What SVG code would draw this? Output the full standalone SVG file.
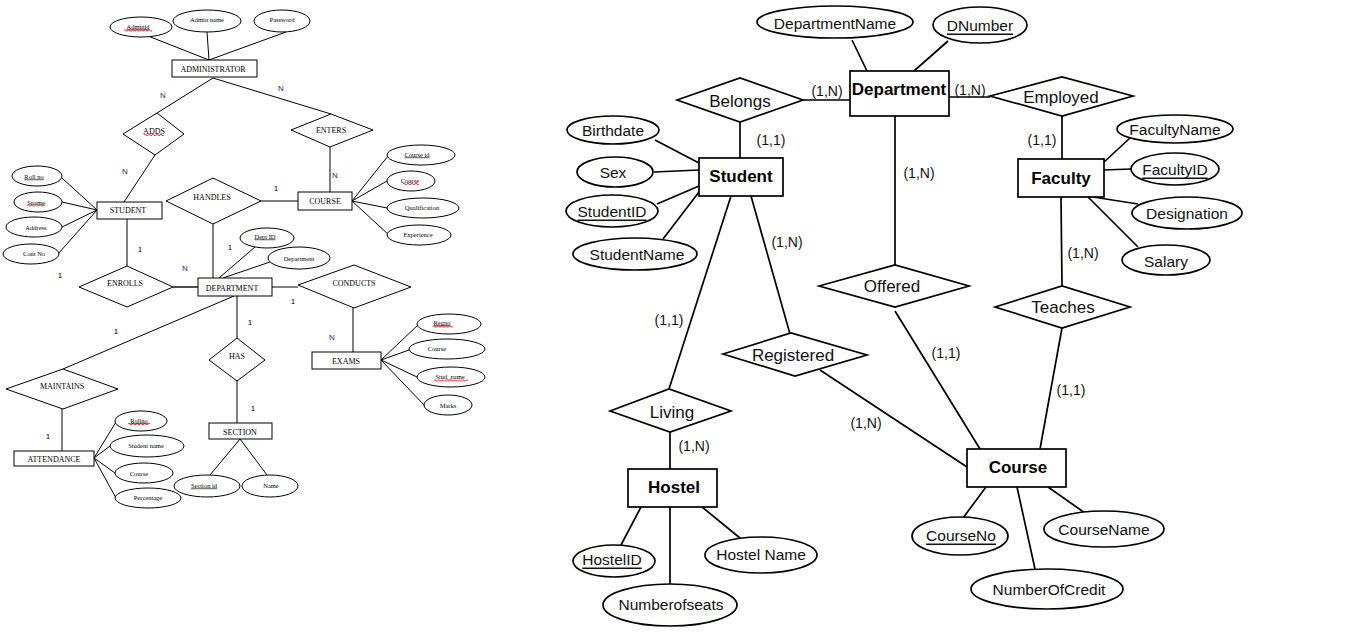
<svg xmlns="http://www.w3.org/2000/svg" width="1347" height="636" viewBox="0 0 1347 636">
<style>
.bg{fill:#fff}
.l1{fill:none;stroke:#000;stroke-width:1}
.l2{fill:none;stroke:#000;stroke-width:1.7}
.s1{fill:#fff;stroke:#000;stroke-width:1}
.s2{fill:#fff;stroke:#000;stroke-width:1.7}
.tE{font-family:"Liberation Serif",serif;font-size:8px;fill:#000;text-anchor:middle;dominant-baseline:central}
.tA{font-family:"Liberation Serif",serif;font-size:6.5px;fill:#000;text-anchor:middle;dominant-baseline:central}
.tC{font-family:"Liberation Sans",sans-serif;font-size:8px;fill:#000;text-anchor:middle;dominant-baseline:central}
.tN{font-family:"Liberation Sans",sans-serif;font-size:8px;fill:#1f2d6b;text-anchor:middle;dominant-baseline:central}
.u{text-decoration:underline}
.sq{fill:none;stroke:#e00000;stroke-width:0.8}
.rE{font-family:"Liberation Sans",sans-serif;font-size:17px;font-weight:bold;fill:#000;text-anchor:middle;dominant-baseline:central}
.rA{font-family:"Liberation Sans",sans-serif;font-size:15.5px;fill:#111;text-anchor:middle;dominant-baseline:central}
.rR{font-family:"Liberation Sans",sans-serif;font-size:17px;fill:#111;text-anchor:middle;dominant-baseline:central}
.rC{font-family:"Liberation Sans",sans-serif;font-size:14px;fill:#111;text-anchor:middle;dominant-baseline:central}
</style>
<rect class="bg" x="0" y="0" width="1347" height="636"/>

<!-- ===== LEFT DIAGRAM CONNECTORS ===== -->
<g id="connectors-left">
<path class="l1" d="M148 36 L209 60 M207 32 L209 60 M286 32 L209 60"/>
<path class="l1" d="M213 78 L157 113 M213 78 L331 114"/>
<path class="l1" d="M155 155 L124 202"/>
<path class="l1" d="M330 147 L330 192"/>
<path class="l1" d="M62 178 L97 210 M62 202 L97 210 M62 227 L97 210 M58 254 L97 210"/>
<path class="l1" d="M352 201 L388 156 M352 201 L387 181 M352 201 L387 208 M352 201 L389 235"/>
<path class="l1" d="M261 201 L298 201 M213 224 L213 278"/>
<path class="l1" d="M127 219 L127 266"/>
<path class="l2" d="M173 287 L198 287" style="stroke-width:1.4"/>
<path class="l1" d="M255 247 L219 278 M270 262 L223 278"/>
<path class="l1" d="M272 287 L298 287"/>
<path class="l1" d="M353 308 L353 352"/>
<path class="l1" d="M381 360 L418 325 M381 360 L409 350 M381 360 L417 377 M381 360 L425 406"/>
<path class="l1" d="M237 296 L237 338 M237 381 L237 423"/>
<path class="l1" d="M240 439 L210 475 M240 439 L267 475"/>
<path class="l1" d="M234 296 L63 369"/>
<path class="l1" d="M62 409 L62 451"/>
<path class="l1" d="M94 458 L116 422 M94 458 L110 446 M94 458 L115 473 M94 458 L116 498"/>
</g>

<!-- cardinalities left -->
<g id="cardinalities-left">
<text class="tN" x="163" y="95">N</text>
<text class="tN" x="281" y="88">N</text>
<text class="tN" x="125" y="171">N</text>
<text class="tN" x="335" y="175">N</text>
<text class="tC" x="276" y="188">1</text>
<text class="tC" x="140" y="249">1</text>
<text class="tC" x="230" y="247">1</text>
<text class="tC" x="60" y="275">1</text>
<text class="tN" x="185" y="268">N</text>
<text class="tC" x="293" y="301">1</text>
<text class="tN" x="332" y="337">N</text>
<text class="tC" x="116" y="331">1</text>
<text class="tC" x="250" y="322">1</text>
<text class="tC" x="253" y="408">1</text>
<text class="tC" x="48" y="436">1</text>
</g>

<!-- ===== LEFT DIAGRAM NODES ===== -->
<g id="adminid"><ellipse class="s1" cx="141" cy="27" rx="31" ry="10"/><text class="tA u" x="138" y="26">Adminid</text><path class="sq" d="M124 30.5 q1 -1.5 2 0 t2 0 t2 0 t2 0 t2 0 t2 0 t2 0 t2 0 t2 0 t2 0 t2 0 t2 0 t2 0 t2 0"/></g>
<g id="adminname"><ellipse class="s1" cx="207" cy="21" rx="34" ry="11"/><text class="tA" x="207" y="19">Admin name</text></g>
<g id="password"><ellipse class="s1" cx="282" cy="21" rx="28" ry="11"/><text class="tA" x="282" y="19">Password</text></g>
<g id="administrator"><rect class="s1" x="172" y="60" width="85" height="17"/><text class="tE" x="213" y="69">ADMINISTRATOR</text></g>
<g id="adds"><polygon class="s1" points="123,134 157,113 184,134 155,155"/><text class="tE" x="154" y="131">ADDS</text><path class="sq" d="M144 135 q1 -1.5 2 0 t2 0 t2 0 t2 0 t2 0 t2 0 t2 0 t2 0 t2 0 t2 0"/></g>
<g id="enters"><polygon class="s1" points="291,130 331,114 373,130 330,147"/><text class="tE" x="331" y="130">ENTERS</text></g>
<g id="course"><rect class="s1" x="298" y="192" width="54" height="18"/><text class="tE" x="325" y="201">COURSE</text></g>
<g id="courseid"><ellipse class="s1" cx="421" cy="155" rx="34" ry="10"/><text class="tA u" x="417" y="154">Course id</text></g>
<g id="coursename1"><ellipse class="s1" cx="411" cy="181" rx="24" ry="10"/><text class="tA" x="410" y="180">Course</text><path class="sq" d="M403 184 q1 -1.5 2 0 t2 0 t2 0 t2 0 t2 0 t2 0 t2 0 t2 0"/></g>
<g id="qualification"><ellipse class="s1" cx="423" cy="208" rx="36" ry="10"/><text class="tA" x="422" y="207">Qualification</text></g>
<g id="experience"><ellipse class="s1" cx="419" cy="235" rx="32" ry="10"/><text class="tA" x="418" y="234">Experience</text></g>
<g id="handles"><polygon class="s1" points="166,201 213,178 261,201 213,224"/><text class="tE" x="212" y="197">HANDLES</text></g>
<g id="student"><rect class="s1" x="97" y="202" width="65" height="17"/><text class="tE" x="128" y="210">STUDENT</text></g>
<g id="rollno"><ellipse class="s1" cx="37" cy="176" rx="25" ry="10"/><text class="tA u" x="34" y="176">Roll no</text></g>
<g id="sname"><ellipse class="s1" cx="38" cy="202" rx="24" ry="10"/><text class="tA" x="36" y="202">Sname</text><path class="sq" d="M27 205.5 q1 -1.5 2 0 t2 0 t2 0 t2 0 t2 0 t2 0 t2 0 t2 0 t2 0"/></g>
<g id="address"><ellipse class="s1" cx="34" cy="227" rx="28" ry="10"/><text class="tA" x="36" y="227">Address</text></g>
<g id="contno"><ellipse class="s1" cx="31" cy="254" rx="28" ry="10"/><text class="tA" x="34" y="253">Cont No</text></g>
<g id="enrolls"><polygon class="s1" points="79,287 127,266 173,287 127,307"/><text class="tE" x="125" y="283">ENROLLS</text></g>
<g id="department"><rect class="s1" x="198" y="278" width="74" height="18"/><text class="tE" x="232" y="288">DEPARTMENT</text></g>
<g id="deptid"><ellipse class="s1" cx="267" cy="238" rx="27" ry="10"/><text class="tA u" x="265" y="236">Dept ID</text></g>
<g id="deptname"><ellipse class="s1" cx="299" cy="258" rx="31" ry="11"/><text class="tA" x="299" y="258">Department</text></g>
<g id="conducts"><polygon class="s1" points="298,285 354,265 411,287 354,308"/><text class="tE" x="354" y="283">CONDUCTS</text></g>
<g id="exams"><rect class="s1" x="312" y="352" width="69" height="17"/><text class="tE" x="346" y="361">EXAMS</text></g>
<g id="regno"><ellipse class="s1" cx="449" cy="324" rx="32" ry="10"/><text class="tA u" x="442" y="322">Regno</text><path class="sq" d="M433 326.5 q1 -1.5 2 0 t2 0 t2 0 t2 0 t2 0 t2 0 t2 0 t2 0 t2 0 t2 0"/></g>
<g id="examcourse"><ellipse class="s1" cx="447" cy="349" rx="38" ry="10"/><text class="tA" x="437" y="348">Course</text></g>
<g id="studname"><ellipse class="s1" cx="451" cy="377" rx="34" ry="10"/><text class="tA" x="450" y="376">Stud_name</text><path class="sq" d="M434 380.5 q1 -1.5 2 0 t2 0 t2 0 t2 0 t2 0 t2 0 t2 0 t2 0 t2 0 t2 0 t2 0 t2 0 t2 0 t2 0 t2 0 t2 0 t2 0"/></g>
<g id="marks"><ellipse class="s1" cx="448" cy="405" rx="24" ry="10"/><text class="tA" x="448" y="405">Marks</text></g>
<g id="has"><polygon class="s1" points="209,360 237,338 265,360 237,381"/><text class="tE" x="237" y="356">HAS</text></g>
<g id="section"><rect class="s1" x="209" y="423" width="63" height="16"/><text class="tE" x="240" y="432">SECTION</text></g>
<g id="sectionid"><ellipse class="s1" cx="207" cy="486" rx="33" ry="11"/><text class="tA u" x="204" y="485">Section id</text></g>
<g id="sectionname"><ellipse class="s1" cx="270" cy="486" rx="28" ry="11"/><text class="tA" x="271" y="485">Name</text></g>
<g id="maintains"><polygon class="s1" points="6,389 63,369 118,389 63,409"/><text class="tE" x="62" y="386">MAINTAINS</text></g>
<g id="attendance"><rect class="s1" x="14" y="451" width="80" height="15"/><text class="tE" x="54" y="459">ATTENDANCE</text></g>
<g id="attrollno"><ellipse class="s1" cx="141" cy="421" rx="26" ry="10"/><text class="tA u" x="139" y="420">Rollno</text><path class="sq" d="M128 424 q1 -1.5 2 0 t2 0 t2 0 t2 0 t2 0 t2 0 t2 0 t2 0 t2 0 t2 0 t2 0"/></g>
<g id="studentname"><ellipse class="s1" cx="147" cy="446" rx="37" ry="11"/><text class="tA" x="146" y="445">Student name</text></g>
<g id="attcourse"><ellipse class="s1" cx="144" cy="473" rx="29" ry="10"/><text class="tA" x="139" y="473">Course</text></g>
<g id="percentage"><ellipse class="s1" cx="148" cy="498" rx="33" ry="10"/><text class="tA" x="148" y="497">Percentage</text></g>

<!-- ===== RIGHT DIAGRAM CONNECTORS ===== -->
<g id="connectors-right">
<path class="l2" d="M852 40 L867 71 M948 41 L914 71"/>
<path class="l2" d="M803 100 L850 100 M949 97 L990 97"/>
<path class="l2" d="M740 122 L740 158"/>
<path class="l2" d="M655 140 L699 163 M654 172 L699 170 M657 204 L699 186 M663 239 L699 192"/>
<path class="l2" d="M895 116 L895 265"/>
<path class="l2" d="M731 196 L669 389"/>
<path class="l2" d="M670 432 L670 469"/>
<path class="l2" d="M641 507 L621 545 M670 507 L670 585 M702 507 L740 538"/>
<path class="l2" d="M751 196 L790 334"/>
<path class="l2" d="M820 370 L967 467"/>
<path class="l2" d="M895 311 L980 449"/>
<path class="l2" d="M1062 328 L1040 449"/>
<path class="l2" d="M986 487 L963 518 M1017 487 L1035 569 M1048 487 L1085 513"/>
<path class="l2" d="M1062 116 L1062 159"/>
<path class="l2" d="M1103 163 L1130 138 M1103 170 L1131 169 M1093 197 L1138 204 M1088 197 L1138 247"/>
<path class="l2" d="M1061 197 L1062 286"/>
</g>

<g id="cardinalities-right">
<text class="rC" x="827" y="91">(1,N)</text>
<text class="rC" x="970" y="90">(1,N)</text>
<text class="rC" x="771" y="140">(1,1)</text>
<text class="rC" x="919" y="173">(1,N)</text>
<text class="rC" x="787" y="242">(1,N)</text>
<text class="rC" x="669" y="320">(1,1)</text>
<text class="rC" x="694" y="446">(1,N)</text>
<text class="rC" x="866" y="423">(1,N)</text>
<text class="rC" x="946" y="353">(1,1)</text>
<text class="rC" x="1071" y="390">(1,1)</text>
<text class="rC" x="1042" y="140">(1,1)</text>
<text class="rC" x="1083" y="253">(1,N)</text>
</g>

<!-- ===== RIGHT DIAGRAM NODES ===== -->
<g id="r-deptname"><ellipse class="s2" cx="835" cy="22" rx="78" ry="16"/><text class="rA" x="835" y="23">DepartmentName</text></g>
<g id="r-dnumber"><ellipse class="s2" cx="980" cy="25" rx="47" ry="18"/><text class="rA u" x="980" y="25">DNumber</text></g>
<g id="r-department"><rect class="s2" x="850" y="71" width="99" height="45"/><text class="rE" x="899" y="89">Department</text></g>
<g id="r-belongs"><polygon class="s2" points="677,100 740,78 803,100 740,122"/><text class="rR" x="740" y="101">Belongs</text></g>
<g id="r-student"><rect class="s2" x="699" y="158" width="84" height="38"/><text class="rE" x="741" y="176">Student</text></g>
<g id="r-birthdate"><ellipse class="s2" cx="613" cy="130" rx="46" ry="14"/><text class="rA" x="613" y="130">Birthdate</text></g>
<g id="r-sex"><ellipse class="s2" cx="615" cy="172" rx="38" ry="15"/><text class="rA" x="613" y="172">Sex</text></g>
<g id="r-studentid"><ellipse class="s2" cx="612" cy="211" rx="46" ry="16"/><text class="rA u" x="612" y="211">StudentID</text></g>
<g id="r-studentname"><ellipse class="s2" cx="635" cy="254" rx="62" ry="16"/><text class="rA" x="637" y="254">StudentName</text></g>
<g id="r-offered"><polygon class="s2" points="819,286 895,265 969,286 895,307"/><text class="rR" x="892" y="286">Offered</text></g>
<g id="r-living"><polygon class="s2" points="610,411 669,389 731,411 670,432"/><text class="rR" x="672" y="412">Living</text></g>
<g id="r-hostel"><rect class="s2" x="628" y="469" width="89" height="38"/><text class="rE" x="674" y="487">Hostel</text></g>
<g id="r-hostelid"><ellipse class="s2" cx="614" cy="561" rx="41" ry="16"/><text class="rA u" x="612" y="559">HostelID</text></g>
<g id="r-hostelname"><ellipse class="s2" cx="761" cy="555" rx="56" ry="18"/><text class="rA" x="761" y="554">Hostel Name</text></g>
<g id="r-numberofseats"><ellipse class="s2" cx="670" cy="605" rx="67" ry="21"/><text class="rA" x="671" y="604">Numberofseats</text></g>
<g id="r-registered"><polygon class="s2" points="723,354 791,333 867,355 795,376"/><text class="rR" x="793" y="355">Registered</text></g>
<g id="r-course"><rect class="s2" x="967" y="449" width="99" height="38"/><text class="rE" x="1018" y="467">Course</text></g>
<g id="r-courseno"><ellipse class="s2" cx="960" cy="536" rx="48" ry="19"/><text class="rA u" x="961" y="535">CourseNo</text></g>
<g id="r-coursename"><ellipse class="s2" cx="1104" cy="529" rx="60" ry="18"/><text class="rA" x="1104" y="529">CourseName</text></g>
<g id="r-numberofcredit"><ellipse class="s2" cx="1047" cy="589" rx="76" ry="20"/><text class="rA" x="1049" y="589">NumberOfCredit</text></g>
<g id="r-teaches"><polygon class="s2" points="995,307 1062,286 1130,307 1062,328"/><text class="rR" x="1063" y="307">Teaches</text></g>
<g id="r-employed"><polygon class="s2" points="990,96 1062,77 1133,96 1062,116"/><text class="rR" x="1061" y="97">Employed</text></g>
<g id="r-faculty"><rect class="s2" x="1018" y="159" width="86" height="38"/><text class="rE" x="1061" y="178">Faculty</text></g>
<g id="r-facultyname"><ellipse class="s2" cx="1175" cy="129" rx="58" ry="14"/><text class="rA" x="1175" y="129">FacultyName</text></g>
<g id="r-facultyid"><ellipse class="s2" cx="1175" cy="169" rx="44" ry="16"/><text class="rA u" x="1175" y="169">FacultyID</text></g>
<g id="r-designation"><ellipse class="s2" cx="1187" cy="213" rx="55" ry="16"/><text class="rA" x="1187" y="213">Designation</text></g>
<g id="r-salary"><ellipse class="s2" cx="1166" cy="260" rx="44" ry="15"/><text class="rA" x="1166" y="261">Salary</text></g>
</svg>
